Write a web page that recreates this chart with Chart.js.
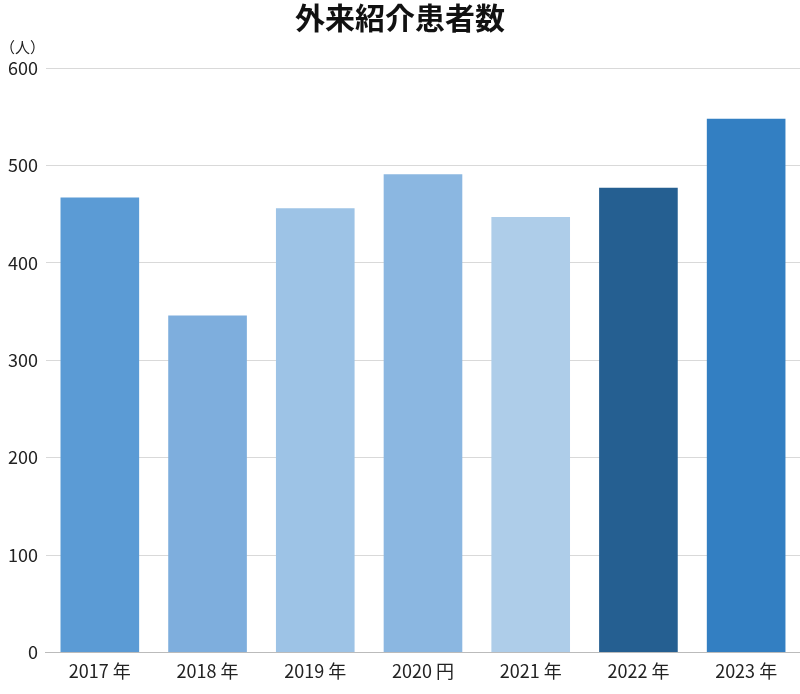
<!DOCTYPE html>
<html><head><meta charset="utf-8">
<script src="https://cdn.jsdelivr.net/npm/chart.js@4/dist/chart.umd.min.js"></script>
<style>html,body{margin:0;background:#fff}#w{width:800px;height:694px;position:relative}</style>
</head><body><div id="w"><canvas id="c"></canvas></div>
<script>
const categories=["2017 年","2018 年","2019 年","2020 円","2021 年","2022 年","2023 年"];
const values=[467,346,456,491,447,477,548];
const colors=["#5b9bd5","#7eaedd","#9dc3e6","#8bb7e1","#aecde9","#255f91","#337fc2"];
const yTicks=[0,100,200,300,400,500,600];
const F="'Noto Sans CJK JP','Noto Sans',sans-serif";
const unitPlugin={id:'unit',afterDraw(ch){const c=ch.ctx;c.save();c.font="15px "+F;c.fillStyle="#222";c.textBaseline="middle";c.fillText("（人）",0,47);c.restore();}};
new Chart(document.getElementById('c'),{type:'bar',
data:{labels:categories,datasets:[{data:values,backgroundColor:colors,barPercentage:0.73,categoryPercentage:1}]},
options:{responsive:true,maintainAspectRatio:false,animation:false,
layout:{padding:{top:0,right:0,left:0,bottom:4}},
plugins:{legend:{display:false},tooltip:{enabled:false},
title:{display:true,text:"外来紹介患者数",font:{family:F,size:30,weight:'bold'},color:"#111",padding:{top:0,bottom:32}}},
scales:{y:{min:0,max:600,afterBuildTicks(a){a.ticks=yTicks.map(v=>({value:v}));},
ticks:{font:{family:F,size:18},color:"#222",padding:8},
grid:{color:"#d9d9d9",drawTicks:false},border:{display:false}},
x:{ticks:{font:{family:F,size:18},color:"#222",padding:8},grid:{display:false,drawTicks:false},border:{color:"#bbb"}}}},
plugins:[unitPlugin]});
</script></body></html>
